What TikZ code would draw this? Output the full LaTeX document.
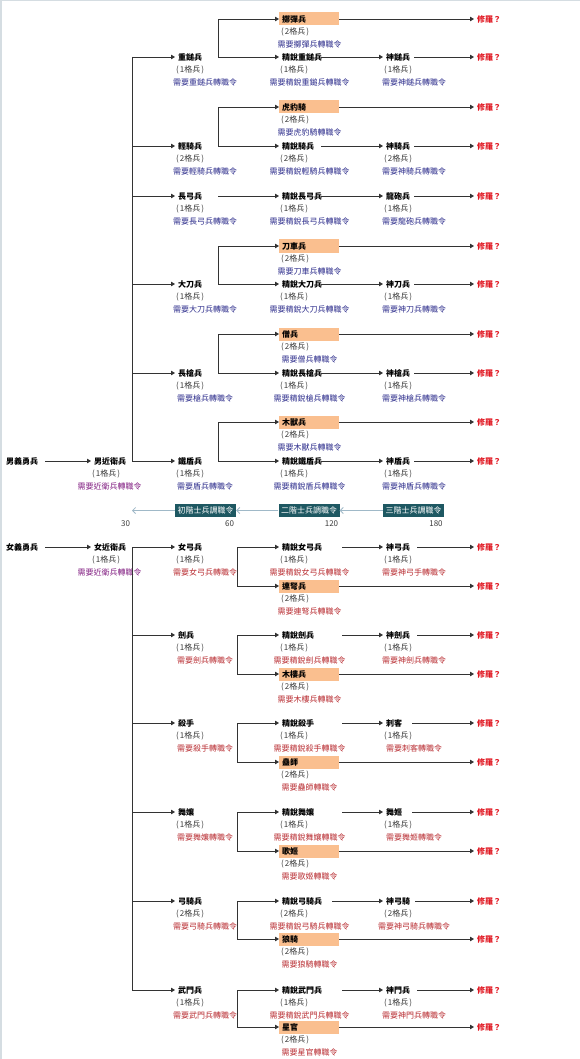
\documentclass[tikz,border=0pt]{standalone}
\usepackage{fontspec}
\setmainfont{Noto Sans CJK TC}
\usetikzlibrary{arrows.meta}
\definecolor{lc}{RGB}{51,51,51}
\definecolor{peach}{RGB}{250,191,143}
\definecolor{mblue}{RGB}{45,45,140}
\definecolor{fred}{RGB}{185,45,50}
\definecolor{purp}{RGB}{130,30,130}
\definecolor{shred}{RGB}{225,25,35}
\definecolor{szc}{RGB}{60,60,60}
\definecolor{barfill}{RGB}{30,88,98}
\definecolor{barc}{RGB}{160,185,200}
\definecolor{framec}{RGB}{213,221,226}
\tikzset{
 ln/.style={line width=0.75pt, draw=lc},
 arr/.style={ln, -{Triangle[length=4pt,width=4.5pt]}},
 nm/.style={anchor=west, inner xsep=3pt, inner ysep=1pt, font=\fontsize{8}{9}\selectfont\bfseries},
 sz/.style={anchor=west, inner xsep=3pt, inner ysep=1pt, font=\fontsize{8}{9}\selectfont, text=szc},
 rqm/.style={inner sep=1pt, font=\fontsize{8}{9}\selectfont, text=mblue},
 rqf/.style={inner sep=1pt, font=\fontsize{8}{9}\selectfont, text=fred},
 rqp/.style={inner sep=1pt, font=\fontsize{8}{9}\selectfont, text=purp},
 boxn/.style={anchor=west, fill=peach, text width=54pt, inner xsep=3pt, inner ysep=0pt, minimum height=13pt, font=\fontsize{8}{9}\selectfont\bfseries},
 sh/.style={anchor=west, inner xsep=3pt, inner ysep=1pt, font=\fontsize{8}{9}\selectfont\bfseries, text=shred},
 barn/.style={fill=barfill, text=white, minimum width=61pt, minimum height=13pt, inner sep=0pt, font=\fontsize{8}{9}\selectfont},
 barr/.style={draw=barc, line width=0.8pt, -{Straight Barb[length=3pt,width=6pt]}},
 num/.style={inner sep=1pt, font=\fontsize{8}{9}\selectfont, text=szc},
}
\newcommand\cellU[8]{%
  \node[nm] (#1) at (#2-3,#4) {#5};
  \node[sz] (#1s) at (#2-5,#4+13) {(\kern1pt#6格兵\kern1pt)};
  \node[#8] (#1r) at (#3,#4+25.5) {需要#7轉職令};}
\newcommand\boxU[6]{%
  \node[boxn] (#1) at (279,#2) {#3};
  \node[sz] (#1s) at (278,#2+13) {(\kern1pt#4格兵\kern1pt)};
  \node[#6] (#1r) at (309.5,#2+25.5) {需要#5轉職令};}
\newcommand\shU[2]{\node[sh] (#1) at (474,#2) {修羅？};}
\begin{document}
\begin{tikzpicture}[x=1pt,y=-1pt]
\useasboundingbox (0,0) rectangle (580,1059);
\fill[white] (0,0) rectangle (580,1059);
\draw[framec, line width=1.5pt] (0.75,1059) -- (0.75,0.75) -- (580,0.75);
\coordinate (TR) at (132,0);
\coordinate (MB) at (218,0);
\coordinate (FB) at (237,0);

% ===== male =====
\node[nm] (m0a) at (3,461) {男義勇兵};
\cellU{m0}{94}{109.5}{461}{男近衛兵}{1}{近衛兵}{rqp}
\draw[arr, shorten <=4pt] (m0a.east) -- (m0.west);

% G1
\boxU{m1b}{19}{擲彈兵}{2}{擲彈兵}{rqm}
\cellU{m1a}{178}{205}{57}{重鎚兵}{1}{重鎚兵}{rqm}
\cellU{m1c}{282}{309.5}{57}{精銳重鎚兵}{1}{精銳重鎚兵}{rqm}
\cellU{m1d}{386}{414}{57}{神鎚兵}{1}{神鎚兵}{rqm}
\shU{m1bs}{19}\shU{m1ds}{57}
% G2
\boxU{m2b}{107}{虎豹騎}{2}{虎豹騎}{rqm}
\cellU{m2a}{178}{205}{146}{輕騎兵}{2}{輕騎兵}{rqm}
\cellU{m2c}{282}{309.5}{146}{精銳騎兵}{2}{精銳輕騎兵}{rqm}
\cellU{m2d}{386}{414}{146}{神騎兵}{2}{神騎兵}{rqm}
\shU{m2bs}{107}\shU{m2ds}{146}
% G3
\cellU{m3a}{178}{205}{196}{長弓兵}{1}{長弓兵}{rqm}
\cellU{m3c}{282}{309.5}{196}{精銳長弓兵}{1}{精銳長弓兵}{rqm}
\cellU{m3d}{386}{414}{196}{龍砲兵}{1}{龍砲兵}{rqm}
\shU{m3ds}{196}
% G4
\boxU{m4b}{246}{刀車兵}{2}{刀車兵}{rqm}
\cellU{m4a}{178}{205}{284}{大刀兵}{1}{大刀兵}{rqm}
\cellU{m4c}{282}{309.5}{284}{精銳大刀兵}{1}{精銳大刀兵}{rqm}
\cellU{m4d}{386}{414}{284}{神刀兵}{1}{神刀兵}{rqm}
\shU{m4bs}{246}\shU{m4ds}{284}
% G5
\boxU{m5b}{334}{僧兵}{2}{僧兵}{rqm}
\cellU{m5a}{178}{205}{373}{長槍兵}{1}{槍兵}{rqm}
\cellU{m5c}{282}{309.5}{373}{精銳長槍兵}{1}{精銳槍兵}{rqm}
\cellU{m5d}{386}{414}{373}{神槍兵}{1}{神槍兵}{rqm}
\shU{m5bs}{334}\shU{m5ds}{373}
% G6
\boxU{m6b}{422}{木獸兵}{2}{木獸兵}{rqm}
\cellU{m6a}{178}{205}{461}{鐵盾兵}{1}{盾兵}{rqm}
\cellU{m6c}{282}{309.5}{461}{精銳鐵盾兵}{1}{精銳盾兵}{rqm}
\cellU{m6d}{386}{414}{461}{神盾兵}{1}{神盾兵}{rqm}
\shU{m6bs}{422}\shU{m6ds}{461}

\draw[ln] (TR |- m1a) -- (TR |- m6a);
\foreach \g in {1,2,4,5,6}{
  \draw[arr] (TR |- m\g a) -- (m\g a.west);
  \draw[arr] (MB |- m\g a) |- (m\g b.west);
  \draw[arr] (MB |- m\g a) -- (m\g c.west);
  \draw[arr] ([xshift=42pt]m\g c.west) -- (m\g d.west);
  \draw[arr] (m\g b.east) -- (m\g bs.west);
  \draw[arr] ([xshift=31pt]m\g d.west) -- (m\g ds.west);
}
\draw[arr] (TR |- m3a) -- (m3a.west);
\draw[arr] (MB |- m3a) -- (m3c.west);
\draw[arr] ([xshift=42pt]m3c.west) -- (m3d.west);
\draw[arr] ([xshift=31pt]m3d.west) -- (m3ds.west);

% ===== scroll bar =====
\node[barn] (bar1) at (205.5,510.5) {初階士兵調職令};
\node[barn] (bar2) at (309,510.5) {二階士兵調職令};
\node[barn] (bar3) at (413.5,510.5) {三階士兵調職令};
\coordinate (barend) at (132,510.5);
\draw[barr] (bar3.west) -- (bar2.east);
\draw[barr] (bar2.west) -- (bar1.east);
\draw[barr] (bar1.west) -- (barend);
\node[num] (n30) at (125.5,523.5) {30};
\node[num] (n60) at (229.5,523.5) {60};
\node[num] (n120) at (331.5,523.5) {120};
\node[num] (n180) at (436,523.5) {180};

% ===== female =====
\node[nm] (f0a) at (3,547) {女義勇兵};
\cellU{f0}{94}{109.5}{547}{女近衛兵}{1}{近衛兵}{rqp}
\draw[arr, shorten <=4pt] (f0a.east) -- (f0.west);

\cellU{f1a}{178}{205}{547}{女弓兵}{1}{女弓兵}{rqf}
\cellU{f1c}{282}{309.5}{547}{精銳女弓兵}{1}{精銳女弓兵}{rqf}
\cellU{f1d}{386}{414}{547}{神弓兵}{1}{神弓手}{rqf}
\boxU{f1b}{586}{連弩兵}{2}{連弩兵}{rqf}
\shU{f1ds}{547}\shU{f1bs}{586}

\cellU{f2a}{178}{205}{635}{劍兵}{1}{劍兵}{rqf}
\cellU{f2c}{282}{309.5}{635}{精銳劍兵}{1}{精銳劍兵}{rqf}
\cellU{f2d}{386}{414}{635}{神劍兵}{1}{神劍兵}{rqf}
\boxU{f2b}{674}{木樓兵}{2}{木樓兵}{rqf}
\shU{f2ds}{635}\shU{f2bs}{674}

\cellU{f3a}{178}{205}{723}{殺手}{1}{殺手}{rqf}
\cellU{f3c}{282}{309.5}{723}{精銳殺手}{1}{精銳殺手}{rqf}
\cellU{f3d}{386}{414}{723}{刺客}{1}{刺客}{rqf}
\boxU{f3b}{762}{蠱師}{2}{蠱師}{rqf}
\shU{f3ds}{723}\shU{f3bs}{762}

\cellU{f4a}{178}{205}{812}{舞孃}{1}{舞孃}{rqf}
\cellU{f4c}{282}{309.5}{812}{精銳舞孃}{1}{精銳舞孃}{rqf}
\cellU{f4d}{386}{414}{812}{舞姬}{1}{舞姬}{rqf}
\boxU{f4b}{851}{歌姬}{2}{歌姬}{rqf}
\shU{f4ds}{812}\shU{f4bs}{851}

\cellU{f5a}{178}{205}{901}{弓騎兵}{2}{弓騎兵}{rqf}
\cellU{f5c}{282}{309.5}{901}{精銳弓騎兵}{2}{精銳弓騎兵}{rqf}
\cellU{f5d}{386}{414}{901}{神弓騎}{2}{神弓騎兵}{rqf}
\boxU{f5b}{939}{狼騎}{2}{狼騎}{rqf}
\shU{f5ds}{901}\shU{f5bs}{939}

\cellU{f6a}{178}{205}{990}{武門兵}{1}{武門兵}{rqf}
\cellU{f6c}{282}{309.5}{990}{精銳武門兵}{1}{精銳武門兵}{rqf}
\cellU{f6d}{386}{414}{990}{神門兵}{1}{神門兵}{rqf}
\boxU{f6b}{1027}{星官}{2}{星官}{rqf}
\shU{f6ds}{990}\shU{f6bs}{1027}

\draw[ln] (TR |- f0) -- (TR |- f6a);
\foreach \g/\s/\t in {1/63/34,2/63/34,3/63/29,4/63/29,5/53/32,6/63/34}{
  \draw[arr] (TR |- f\g a) -- (f\g a.west);
  \draw[arr] (FB |- f\g a) -- (f\g c.west);
  \draw[arr] (FB |- f\g a) |- (f\g b.west);
  \draw[arr] ([xshift=\s pt]f\g c.west) -- (f\g d.west);
  \draw[arr] ([xshift=\t pt]f\g d.west) -- (f\g ds.west);
  \draw[arr] (f\g b.east) -- (f\g bs.west);
}
\end{tikzpicture}
\end{document}
